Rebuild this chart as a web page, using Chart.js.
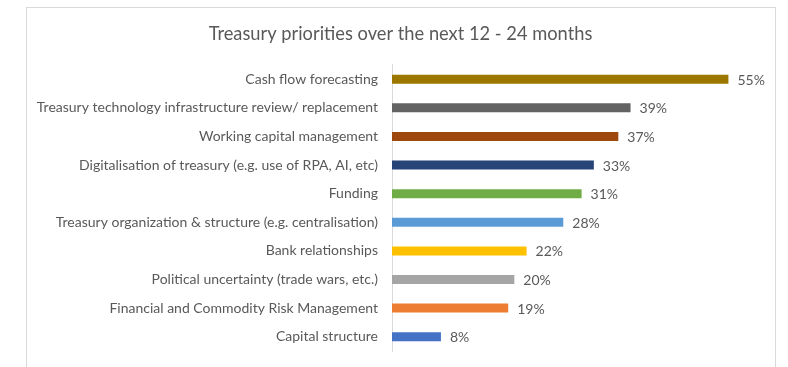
<!DOCTYPE html>
<html>
<head>
<meta charset="utf-8">
<style>
  html, body { margin: 0; padding: 0; background: #ffffff; }
  #wrap { position: relative; width: 788px; height: 367px; }
</style>
<script src="https://cdn.jsdelivr.net/npm/chart.js@4/dist/chart.umd.min.js"></script>
</head>
<body>
<div id="wrap"><canvas id="chart" width="788" height="367"></canvas></div>
<script>
const titleText = 'Treasury priorities over the next 12 - 24 months';

const categories = [
  'Cash flow forecasting',
  'Treasury technology infrastructure review/ replacement',
  'Working capital management',
  'Digitalisation of treasury (e.g. use of RPA, AI, etc)',
  'Funding',
  'Treasury organization & structure (e.g. centralisation)',
  'Bank relationships',
  'Political uncertainty (trade wars, etc.)',
  'Financial and Commodity Risk Management',
  'Capital structure'
];

const shares = [55, 39, 37, 33, 31, 28, 22, 20, 19, 8];

const barColors = [
  '#9c7700', '#636363', '#9e480e', '#264478', '#70ad47',
  '#5b9bd5', '#ffc000', '#a5a5a5', '#ed7d31', '#4472c4'
];

const FONT = 'Lato, "Open Sans", "Liberation Sans", sans-serif';
const TEXT = '#595959';

// Light frame around the whole chart
const framePlugin = {
  id: 'frame',
  beforeDraw(chart) {
    const ctx = chart.ctx;
    ctx.save();
    ctx.strokeStyle = '#d9d9d9';
    ctx.lineWidth = 1;
    ctx.strokeRect(26.5, 7.5, 749, 400);
    ctx.restore();
  }
};

// Percentage labels just past the end of each bar
const valueLabels = {
  id: 'valueLabels',
  afterDatasetsDraw(chart) {
    const ctx = chart.ctx;
    const meta = chart.getDatasetMeta(0);
    ctx.save();
    ctx.font = '14px ' + FONT;
    ctx.fillStyle = TEXT;
    ctx.textAlign = 'left';
    ctx.textBaseline = 'middle';
    meta.data.forEach((bar, i) => {
      ctx.fillText(shares[i] + '%', bar.x + 9, bar.y + 1);
    });
    ctx.restore();
  }
};

new Chart(document.getElementById('chart'), {
  type: 'bar',
  data: {
    labels: categories,
    datasets: [{
      data: shares,
      backgroundColor: barColors,
      borderWidth: 0,
      categoryPercentage: 1,
      barPercentage: 0.315
    }]
  },
  options: {
    indexAxis: 'y',
    responsive: false,
    animation: false,
    devicePixelRatio: 1,
    layout: { padding: { top: 23, left: 26, right: 13, bottom: 16 } },
    plugins: {
      legend: { display: false },
      tooltip: { enabled: false },
      title: {
        display: true,
        text: titleText,
        color: TEXT,
        font: { family: FONT, size: 18.3, weight: 'normal' },
        padding: { top: 0, bottom: 20 }
      }
    },
    scales: {
      x: {
        display: false,
        min: 0,
        max: 60
      },
      y: {
        afterFit(scale) { scale.width = 366; },
        // invisible tick marks provide the gap between labels and the axis line
        grid: {
          display: true,
          drawOnChartArea: false,
          drawTicks: true,
          tickLength: 14,
          color: 'rgba(0,0,0,0)'
        },
        border: { display: true, color: '#d9d9d9', width: 1 },
        ticks: {
          color: TEXT,
          padding: 0,
          font: { family: FONT, size: 14 },
          autoSkip: false
        }
      },
      // empty right-hand gutter between the plot and the frame
      gutter: {
        type: 'category',
        axis: 'y',
        position: 'right',
        afterFit(scale) { scale.width = 16; },
        grid: { display: false },
        border: { display: false },
        ticks: { display: false }
      }
    }
  },
  plugins: [framePlugin, valueLabels]
});
</script>
</body>
</html>
